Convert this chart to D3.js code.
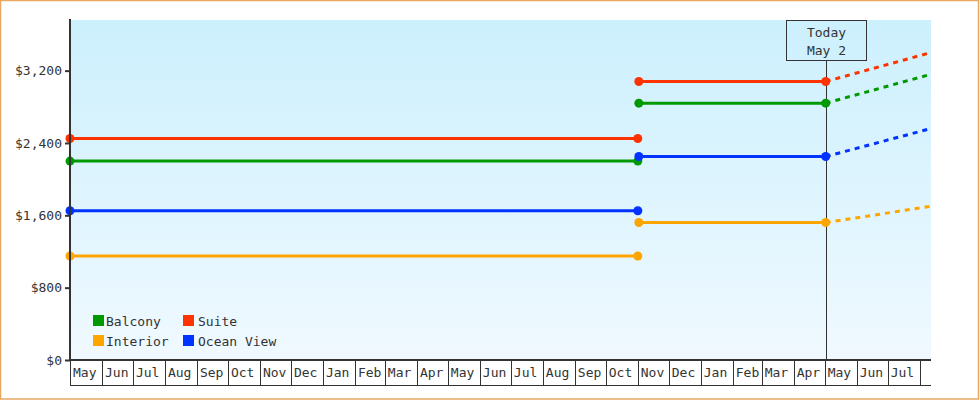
<!DOCTYPE html>
<html>
<head>
<meta charset="utf-8">
<script src="https://cdn.jsdelivr.net/npm/d3@7"></script>
<style>
  body { margin: 0; background: #fff; }
  svg { display: block; font-family: "DejaVu Sans Mono", monospace; font-size: 13px; }
  text { fill: #333; }
</style>
</head>
<body>
<div id="chart"></div>
<script>
const width = 980;
const height = 400;

const margin = { top: 20, right: 49, bottom: 40, left: 70 };

// cabin categories and colours
const cabins = ["Balcony", "Suite", "Interior", "Ocean View"];
const cabinColors = ["#009900", "#ff3300", "#ffa500", "#0033ff"];

// price periods (start, end)
const period1 = ["2023-05-01", "2024-11-01"];
const period2 = ["2024-11-02", "2025-05-02"];
const forecastEnd = "2025-08-12";

// prices per cabin, same order as cabins
const period1Prices = [2200, 2450, 1150, 1650];
const period2Prices = [2840, 3080, 1520, 2250];
const forecastPrices = [3160, 3400, 1700, 2560];

const yTicks = [0, 800, 1600, 2400, 3200];
const todayLabel = ["Today", "May 2"];

const parse = d3.timeParse("%Y-%m-%d");

const svg = d3.select("#chart")
  .append("svg")
  .attr("width", width)
  .attr("height", height);

const defs = svg.append("defs");
const grad = defs.append("linearGradient")
  .attr("id", "bg")
  .attr("x1", 0).attr("y1", 0).attr("x2", 0).attr("y2", 1);
grad.append("stop").attr("offset", "0%").attr("stop-color", "#ccf0fd");
grad.append("stop").attr("offset", "100%").attr("stop-color", "#f0f9ff");

defs.append("clipPath").attr("id", "plot")
  .append("rect")
  .attr("x", margin.left)
  .attr("y", margin.top)
  .attr("width", width - margin.left - margin.right)
  .attr("height", height - margin.top - margin.bottom);

// outer border
svg.append("rect")
  .attr("x", 0.5).attr("y", 0.5)
  .attr("width", width - 2).attr("height", height - 1.5)
  .attr("fill", "none")
  .attr("stroke", "#e8a860")
  .attr("stroke-width", 1.5);

const xScale = d3.scaleTime()
  .domain([parse(period1[0]), parse(forecastEnd)])
  .range([margin.left, width - margin.right]);

const yScale = d3.scaleLinear()
  .domain([0, 3760])
  .range([height - margin.bottom, margin.top]);

const plotBottom = height - margin.bottom;

svg.append("rect")
  .attr("x", margin.left)
  .attr("y", margin.top)
  .attr("width", width - margin.left - margin.right)
  .attr("height", plotBottom - margin.top)
  .attr("fill", "url(#bg)");

// today marker
const today = parse(period2[1]);
const tx = Math.round(xScale(today)) + 0.5;

svg.append("line")
  .attr("x1", tx).attr("x2", tx)
  .attr("y1", margin.top + 40).attr("y2", plotBottom)
  .attr("stroke", "#333")
  .attr("stroke-width", 1);

svg.append("rect")
  .attr("x", tx - 40).attr("y", margin.top + 0.5)
  .attr("width", 80).attr("height", 40)
  .attr("fill", "none")
  .attr("stroke", "#333")
  .attr("stroke-width", 1);

svg.selectAll(".today-label")
  .data(todayLabel)
  .enter()
  .append("text")
  .attr("class", "today-label")
  .attr("x", tx)
  .attr("y", function(d, i) { return margin.top + 17 + i * 18; })
  .attr("text-anchor", "middle")
  .text(function(d) { return d; });

// build series
const series = cabins.map(function(name, i) {
  return {
    name: name,
    color: cabinColors[i],
    segments: [
      [{ date: parse(period1[0]), value: period1Prices[i] }, { date: parse(period1[1]), value: period1Prices[i] }],
      [{ date: parse(period2[0]), value: period2Prices[i] }, { date: parse(period2[1]), value: period2Prices[i] }]
    ],
    forecast: [{ date: today, value: period2Prices[i] }, { date: parse(forecastEnd), value: forecastPrices[i] }]
  };
});

const line = d3.line()
  .x(function(d) { return xScale(d.date); })
  .y(function(d) { return yScale(d.value); });

const plot = svg.append("g").attr("clip-path", "url(#plot)");

series.forEach(function(s) {
  plot.append("path")
    .attr("d", line(s.forecast))
    .attr("fill", "none")
    .attr("stroke", s.color)
    .attr("stroke-width", 3)
    .attr("stroke-dasharray", "5,5")
    .attr("stroke-dashoffset", 0);
});

series.forEach(function(s) {
  s.segments.forEach(function(seg) {
    svg.append("path")
      .attr("d", line(seg))
      .attr("fill", "none")
      .attr("stroke", s.color)
      .attr("stroke-width", 3);

    svg.selectAll(null)
      .data(seg)
      .enter()
      .append("circle")
      .attr("cx", function(d) { return xScale(d.date); })
      .attr("cy", function(d) { return yScale(d.value); })
      .attr("r", 4.5)
      .attr("fill", s.color);
  });
});

// y axis
const yAxis = svg.append("g")
  .attr("transform", "translate(" + margin.left + ",0)")
  .call(d3.axisLeft(yScale)
    .tickValues(yTicks)
    .tickSize(5)
    .tickPadding(3)
    .tickFormat(function(d) { return "$" + d3.format(",")(d); }));

yAxis.select(".domain")
  .attr("d", "M0," + (margin.top - 1) + "V" + plotBottom)
  .attr("stroke", "#333")
  .attr("stroke-width", 2);
yAxis.selectAll(".tick line").attr("stroke", "#333").attr("stroke-width", 2);
yAxis.selectAll(".tick text")
  .attr("font-family", "DejaVu Sans Mono, monospace")
  .attr("font-size", 13)
  .attr("fill", "#333");

// x axis: month cells
const months = xScale.ticks(d3.timeMonth.every(1));

const xAxis = svg.append("g").attr("class", "x-axis");

xAxis.append("line")
  .attr("x1", margin.left).attr("x2", width - margin.right)
  .attr("y1", plotBottom).attr("y2", plotBottom)
  .attr("stroke", "#333").attr("stroke-width", 2);

xAxis.append("line")
  .attr("x1", margin.left).attr("x2", width - margin.right)
  .attr("y1", plotBottom + 25.5).attr("y2", plotBottom + 25.5)
  .attr("stroke", "#333").attr("stroke-width", 1);

xAxis.selectAll(".sep")
  .data(months)
  .enter()
  .append("line")
  .attr("class", "sep")
  .attr("x1", function(d) { return Math.round(xScale(d)) + 0.5; })
  .attr("x2", function(d) { return Math.round(xScale(d)) + 0.5; })
  .attr("y1", plotBottom)
  .attr("y2", plotBottom + 25)
  .attr("stroke", "#333")
  .attr("stroke-width", 1);

xAxis.selectAll(".mlabel")
  .data(months.filter(function(d) {
    return xScale(d3.timeMonth.offset(d, 1)) <= width - margin.right + 1;
  }))
  .enter()
  .append("text")
  .attr("class", "mlabel")
  .attr("x", function(d) { return xScale(d) + 3; })
  .attr("y", plotBottom + 17)
  .text(d3.timeFormat("%b"));

// legend
const legend = svg.append("g")
  .attr("transform", "translate(93,315)");

const legendItems = legend.selectAll(".legend-item")
  .data(series)
  .enter()
  .append("g")
  .attr("class", "legend-item")
  .attr("transform", function(d, i) {
    return "translate(" + (i % 2) * 90 + "," + Math.floor(i / 2) * 20 + ")";
  });

legendItems.append("rect")
  .attr("width", 11)
  .attr("height", 11)
  .attr("fill", function(d) { return d.color; });

legendItems.append("text")
  .attr("x", function(d, i) { return i % 2 ? 15 : 13; })
  .attr("y", 10.5)
  .text(function(d) { return d.name; });
</script>
</body>
</html>
